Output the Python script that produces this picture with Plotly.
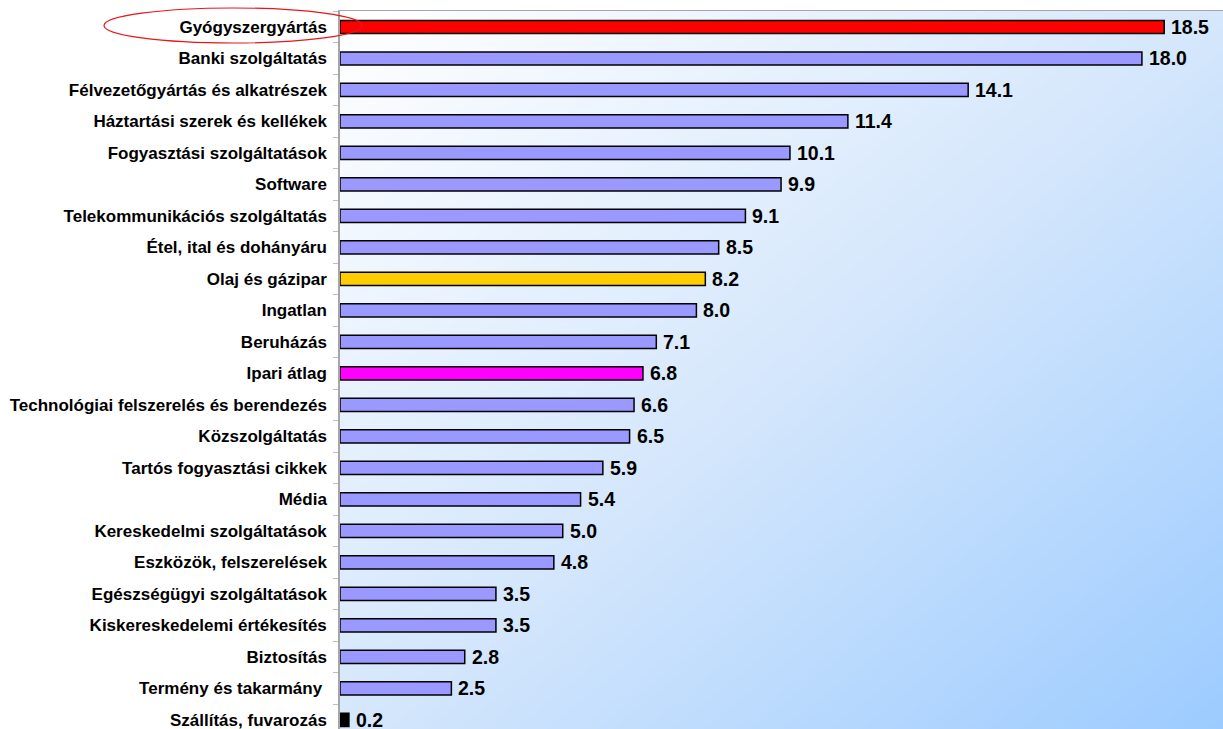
import plotly.graph_objects as go

categories = [
    "Gyógyszergyártás", "Banki szolgáltatás", "Félvezetőgyártás és alkatrészek",
    "Háztartási szerek és kellékek", "Fogyasztási szolgáltatások", "Software",
    "Telekommunikációs szolgáltatás", "Étel, ital és dohányáru", "Olaj és gázipar",
    "Ingatlan", "Beruházás", "Ipari átlag", "Technológiai felszerelés és berendezés",
    "Közszolgáltatás", "Tartós fogyasztási cikkek", "Média", "Kereskedelmi szolgáltatások",
    "Eszközök, felszerelések", "Egészségügyi szolgáltatások", "Kiskereskedelemi értékesítés",
    "Biztosítás", "Termény és takarmány\u00a0", "Szállítás, fuvarozás",
]
values = [18.5, 18.0, 14.1, 11.4, 10.1, 9.9, 9.1, 8.5, 8.2, 8.0, 7.1, 6.8, 6.6, 6.5,
          5.9, 5.4, 5.0, 4.8, 3.5, 3.5, 2.8, 2.5, 0.2]

LAV = "#9999FF"
special = {"Gyógyszergyártás": "#FF0000", "Olaj és gázipar": "#FFCC00",
           "Ipari átlag": "#FF00FF", "Szállítás, fuvarozás": "#000000"}
colors = [special.get(c, LAV) for c in categories]

FONT = "Liberation Sans, Arial, sans-serif"

fig = go.Figure()

# gradient background
fig.add_trace(go.Heatmap(
    x=[0, 1], y=[0, 1], z=[[1, 2], [0, 1]],
    colorscale=[[0, "#FFFFFF"], [0.5, "#D5E7FC"], [1, "#9CCBFF"]],
    zsmooth="best", showscale=False, hoverinfo="skip",
    xaxis="x", yaxis="y",
))

fig.add_trace(go.Bar(
    x=values, y=categories, orientation="h",
    marker=dict(color=colors, line=dict(color="#000000", width=1.5)),
    width=0.42, xaxis="x2", yaxis="y2", hoverinfo="skip",
))

for c, v in zip(categories, values):
    fig.add_annotation(
        x=v, y=c, xref="x2", yref="y2", text=f"{v:.1f}", showarrow=False,
        xanchor="left", yanchor="middle", xshift=5,
        font=dict(family=FONT, size=19.5, color="#000000", weight="bold"),
    )

# red ellipse around first label
fig.add_shape(type="circle", xref="paper", yref="paper",
              x0=(104 - 340) / 883, x1=(362 - 340) / 883,
              y0=(729 - 43) / 718, y1=(729 - 8) / 718,
              line=dict(color="#E8161B", width=1.2), layer="above")

fig.update_layout(
    width=1223, height=729,
    margin=dict(l=340, r=0, t=11, b=0),
    paper_bgcolor="#FFFFFF", plot_bgcolor="#FFFFFF",
    showlegend=False,
    xaxis=dict(range=[0, 1], visible=False, fixedrange=True),
    yaxis=dict(range=[0, 1], visible=False, fixedrange=True),
    xaxis2=dict(range=[0, 19.82], overlaying="x", side="top", showline=True,
                linecolor="#A6A6A6", linewidth=1, showticklabels=False, ticks="",
                showgrid=False, zeroline=False),
    yaxis2=dict(type="category", range=[22.29, -0.508], overlaying="y", side="left",
                showline=True, linecolor="#A6A6A6", linewidth=1.5,
                ticks="outside", tickson="boundaries", ticklen=5, tickcolor="#BFBFBF",
                tickwidth=1, ticklabelstandoff=8,
                showgrid=False, zeroline=False,
                tickfont=dict(family=FONT, size=17, color="#000000", weight="bold")),
)

fig.write_html("out.html")
